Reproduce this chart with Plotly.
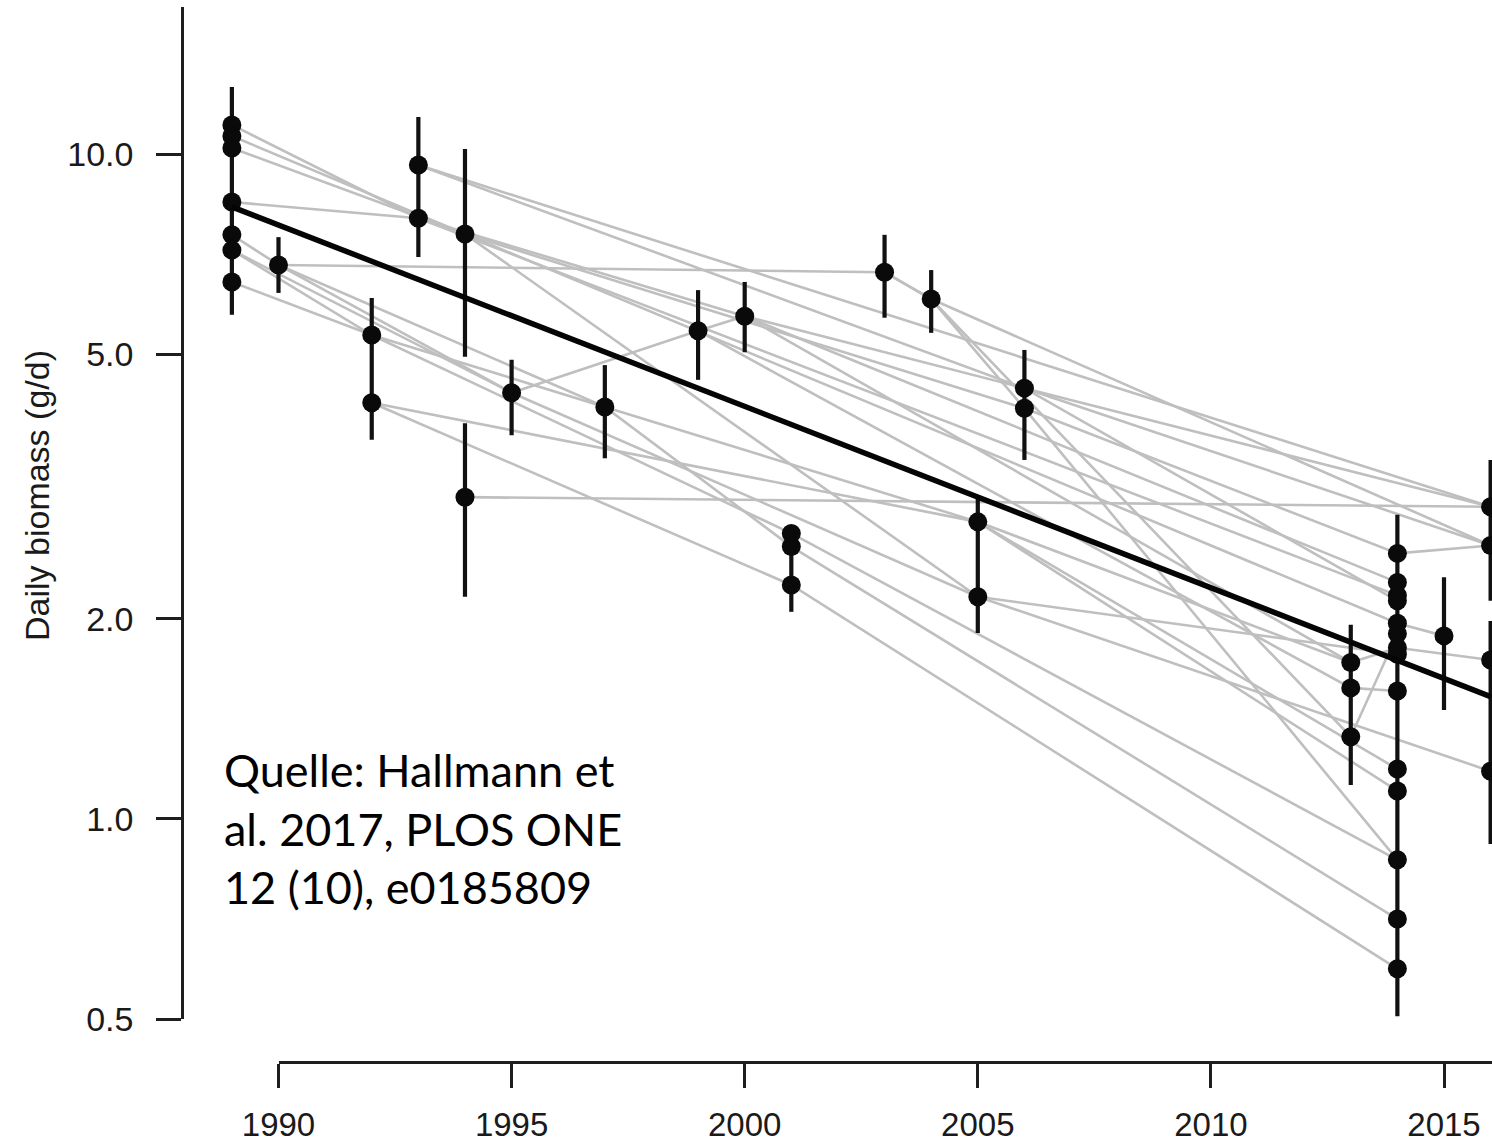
import plotly.graph_objects as go

# ---------------- data ----------------
# sampled points (year, daily biomass g/d)
pt_year = [1989, 1989, 1989, 1989, 1989, 1989, 1989,
           1990,
           1992, 1992,
           1993, 1993,
           1994, 1994,
           1995,
           1997,
           1999,
           2000,
           2001, 2001, 2001,
           2003,
           2004,
           2005, 2005,
           2006, 2006,
           2013, 2013, 2013,
           2014, 2014, 2014, 2014, 2014, 2014, 2014, 2014, 2014, 2014, 2014, 2014, 2014, 2014,
           2015,
           2016, 2016, 2016, 2016]
pt_val = [11.08, 10.66, 10.23, 8.48, 7.57, 7.18, 6.43,
          6.82,
          5.35, 4.23,
          9.64, 8.02,
          7.59, 3.05,
          4.38,
          4.17,
          5.43,
          5.71,
          2.69, 2.57, 2.25,
          6.65,
          6.06,
          2.80, 2.16,
          4.45, 4.15,
          1.72, 1.575, 1.33,
          2.51, 2.27, 2.17, 2.13, 1.97, 1.90, 1.81, 1.77, 1.558, 1.189, 1.102, 0.868, 0.707, 0.595,
          1.886,
          2.95, 2.58, 1.735, 1.18]

# vertical uncertainty bars (year, low, high)
eb_year = [1989, 1990, 1992, 1993, 1994, 1994, 1995, 1997, 1999, 2000, 2001,
           2003, 2004, 2005, 2006, 2013, 2014, 2015, 2016, 2016]
eb_low = [5.74, 6.19, 3.72, 7.01, 4.96, 2.16, 3.78, 3.49, 4.58, 5.04, 2.05,
          5.68, 5.39, 1.905, 3.47, 1.125, 0.505, 1.459, 2.13, 0.917]
eb_high = [12.64, 7.51, 6.08, 11.39, 10.19, 3.94, 4.91, 4.82, 6.25, 6.43, 2.77,
           7.57, 6.70, 3.05, 5.08, 1.96, 2.87, 2.31, 3.47, 1.986]

# individual site trajectories (grey lines)
site_years = [
    [1989, 1993, 2000, 2006, 2016],
    [1989, 1994, 2014, 2015],
    [1989, 1994, 2006, 2014, 2016],
    [1993, 2006, 2014],
    [1989, 1993, 2014],
    [1990, 2003, 2004, 2013, 2014],
    [2003, 2004, 2006, 2014],
    [2004, 2016],
    [1989, 1990, 1995, 1999, 2000, 2014],
    [1989, 1992, 1997, 2005, 2014],
    [1989, 1992, 2001, 2014],
    [1990, 1997, 2001, 2014],
    [1992, 2001, 2014],
    [1994, 2016],
    [1989, 1995, 2005, 2016],
    [1999, 2013, 2014],
    [2000, 2013, 2014, 2016],
    [2005, 2014],
    [1994, 2005, 2014],
    [1992, 2005, 2013],
    [1993, 2016],
    [2006, 2016],
]
site_vals = [
    [11.08, 8.02, 5.71, 4.45, 2.95],
    [10.66, 7.59, 1.97, 1.886],
    [10.23, 7.59, 4.15, 2.51, 2.58],
    [9.64, 4.45, 2.13],
    [8.48, 8.02, 2.17],
    [6.82, 6.65, 6.06, 1.33, 1.90],
    [6.65, 6.06, 4.15, 0.868],
    [6.06, 2.58],
    [7.57, 6.82, 4.38, 5.43, 5.71, 2.27],
    [7.18, 5.35, 4.17, 2.80, 1.102],
    [6.43, 5.35, 2.69, 0.868],
    [6.82, 4.17, 2.57, 0.707],
    [4.23, 2.25, 0.595],
    [3.05, 2.95],
    [7.18, 4.38, 2.16, 1.18],
    [5.43, 1.575, 1.558],
    [5.71, 1.72, 1.81, 1.735],
    [2.80, 1.189],
    [7.59, 2.16, 1.77],
    [4.23, 2.80, 1.72],
    [9.64, 2.95],
    [4.45, 2.58],
]

# overall trend
trend_year = [1989, 2016]
trend_val = [8.34, 1.528]

# axis ticks
x_ticks = [1990, 1995, 2000, 2005, 2010, 2015]
y_ticks = [0.5, 1.0, 2.0, 5.0, 10.0]
y_ticktext = ["0.5", "1.0", "2.0", "5.0", "10.0"]

source_text = "Quelle: Hallmann et<br>al. 2017, PLOS ONE<br>12 (10), e0185809"
y_title = "Daily biomass (g/d)"

# ---------------- figure ----------------
W, H = 1492, 1147
M_T, M_B = 7, 85
plot_h = H - M_T - M_B          # 1055
y_bottom_px = 1019              # pixel where 0.5 sits
y_dom0 = (H - M_B - y_bottom_px) / plot_h

gx, gy = [], []
for yrs, vals in zip(site_years, site_vals):
    gx += yrs + [None]
    gy += vals + [None]

ex, ey = [], []
for yr, lo, hi in zip(eb_year, eb_low, eb_high):
    ex += [yr, yr, None]
    ey += [lo, hi, None]

fig = go.Figure()
fig.add_trace(go.Scatter(x=gx, y=gy, mode="lines",
                         line=dict(color="#bfbfbf", width=2.6),
                         hoverinfo="skip", showlegend=False))
fig.add_trace(go.Scatter(x=ex, y=ey, mode="lines",
                         line=dict(color="#111111", width=4.2),
                         hoverinfo="skip", showlegend=False))
fig.add_trace(go.Scatter(x=pt_year, y=pt_val, mode="markers",
                         marker=dict(color="#0a0a0a", size=19, line=dict(width=0)),
                         showlegend=False))
fig.add_trace(go.Scatter(x=trend_year, y=trend_val, mode="lines",
                         line=dict(color="#050505", width=5.5),
                         showlegend=False))
# invisible helper so the displayed year axis is rendered
fig.add_trace(go.Scatter(x=[2000], y=[1], xaxis="x2", yaxis="y", mode="markers",
                         marker=dict(opacity=0), hoverinfo="skip", showlegend=False))

x_left = 1990 - 278.5 / 46.62
x_right = 1990 + (W - 278.5) / 46.62
y_top_log = 1 + (154.5 - M_T) / 664.5

axis_col = "#1e1e1e"
fig.update_layout(
    width=W, height=H,
    margin=dict(l=0, r=0, t=M_T, b=M_B, pad=0, autoexpand=False),
    paper_bgcolor="white", plot_bgcolor="rgba(0,0,0,0)",
    showlegend=False,
    font=dict(family="Liberation Sans, Arial, sans-serif", color="#1a1a1a"),
    xaxis=dict(domain=[0, 1], range=[x_left, x_right], visible=False,
               anchor="y", fixedrange=True, automargin=False),
    xaxis2=dict(domain=[278.5 / W, 1], range=[1990, x_right], anchor="free",
                position=0, showline=True, linecolor=axis_col, linewidth=2.5,
                ticks="outside", ticklen=24, tickwidth=2.5, tickcolor=axis_col,
                tickvals=x_ticks, ticktext=[str(v) for v in x_ticks],
                tickfont=dict(size=33), showgrid=False, zeroline=False,
                ticklabelstandoff=9, automargin=False),
    yaxis=dict(type="log", domain=[y_dom0, 1], range=[0.30103 * -1, y_top_log],
               anchor="free", position=182 / W, showline=True, linecolor=axis_col,
               linewidth=2.5, ticks="outside", ticklen=25, tickwidth=2.5,
               tickcolor=axis_col, tickvals=y_ticks, ticktext=y_ticktext,
               tickfont=dict(size=34), showgrid=False, zeroline=False,
               ticklabelstandoff=16, automargin=False),
)

fig.add_annotation(text=y_title, xref="paper", yref="paper",
                   x=37 / W, y=(H - M_B - 496) / plot_h, textangle=-90,
                   showarrow=False, xanchor="center", yanchor="middle",
                   font=dict(size=34, color="#1a1a1a"))
fig.add_annotation(text=source_text, xref="paper", yref="paper",
                   x=222 / W, y=(H - M_B - 828) / plot_h, showarrow=False,
                   xanchor="left", yanchor="middle", align="left",
                   font=dict(family="Lato, Open Sans, sans-serif", size=45, color="#000000"))

fig.write_html("out.html",
               config={"displayModeBar": False},
               post_script="document.body.style.margin='0px';"
                           "document.body.style.overflow='hidden';")
